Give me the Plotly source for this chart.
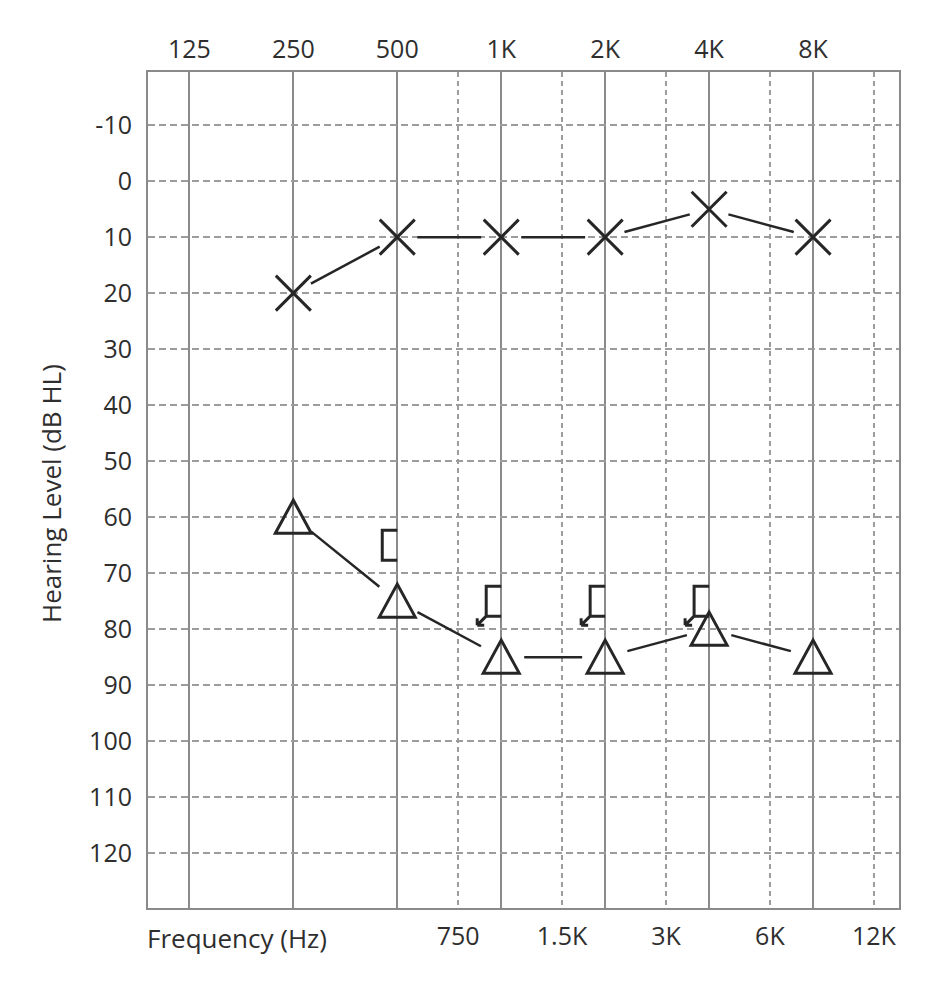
import numpy as np
import plotly.graph_objects as go

# ---- data ----
top_tick_vals = [125, 250, 500, 1000, 2000, 4000, 8000]
top_tick_text = ["125", "250", "500", "1K", "2K", "4K", "8K"]
mid_tick_vals = [750, 1500, 3000, 6000, 12000]
mid_tick_text = ["750", "1.5K", "3K", "6K", "12K"]
db_ticks = list(range(-10, 130, 10))
db_tick_text = [str(v) for v in db_ticks]

freqs = [250, 500, 1000, 2000, 4000, 8000]
air_db = [20, 10, 10, 10, 5, 10]          # X symbols
tri_db = [60, 75, 85, 85, 80, 85]         # triangle symbols

bone_freqs = [500, 1000, 2000, 4000]
bone_db = [65, 75, 75, 75]
bone_no_response = [False, True, True, True]

# ---- layout geometry ----
W, H = 935, 991
ML, MR, MT, MB = 148, 36, 72, 83
PW, PH = W - ML - MR, H - MT - MB
XR = [1.9771, 4.1520]           # log10 range
YR = [129.8, -19.5]

INK = "#262626"
SOLID = "#8a8a8a"
DASH = "#9c9c9c"
FONT = "Open Sans"

px_per_oct = PW / ((XR[1] - XR[0]) / np.log10(2))
px_per_db = PH / (YR[0] - YR[1])


def gapped_segments(fx, dbs, gap):
    xs, ys = [], []
    for i in range(len(fx) - 1):
        u0, v0 = np.log2(fx[i]) * px_per_oct, dbs[i] * px_per_db
        u1, v1 = np.log2(fx[i + 1]) * px_per_oct, dbs[i + 1] * px_per_db
        d = np.hypot(u1 - u0, v1 - v0)
        du, dv = (u1 - u0) / d, (v1 - v0) / d
        a = (u0 + du * gap, v0 + dv * gap)
        b = (u1 - du * gap, v1 - dv * gap)
        for (u, v) in (a, b):
            xs.append(2 ** (u / px_per_oct))
            ys.append(v / px_per_db)
        xs.append(None)
        ys.append(None)
    return xs, ys


fig = go.Figure()

ax, ay = gapped_segments(freqs, air_db, 20)
fig.add_trace(go.Scatter(x=ax, y=ay, mode="lines", line=dict(color=INK, width=2.5),
                         hoverinfo="skip", showlegend=False))
tx, ty = gapped_segments(freqs, tri_db, 23)
fig.add_trace(go.Scatter(x=tx, y=ty, mode="lines", line=dict(color=INK, width=2.5),
                         hoverinfo="skip", showlegend=False, xaxis="x2"))
fig.add_trace(go.Scatter(x=freqs, y=air_db, mode="markers",
                         marker=dict(symbol="x-thin-open", size=35, color=INK,
                                     line=dict(color=INK, width=3)),
                         showlegend=False))

shapes = []
for f, d in zip(freqs, tri_db):
    shapes.append(dict(type="path", xref="x", yref="y", xsizemode="pixel", ysizemode="pixel",
                       xanchor=f, yanchor=d, path="M-18,-16 L18,-16 L0,17 Z",
                       line=dict(color=INK, width=3), fillcolor="rgba(0,0,0,0)", layer="above"))
for f, d, nr in zip(bone_freqs, bone_db, bone_no_response):
    p = "M0,15 L-15,15 L-15,-15 L0,-15"
    if nr:
        p += " M-15,-15 L-24,-24 M-24,-24 L-24,-17 M-24,-24 L-17,-24"
    shapes.append(dict(type="path", xref="x", yref="y", xsizemode="pixel", ysizemode="pixel",
                       xanchor=f, yanchor=d, path=p,
                       line=dict(color=INK, width=3), layer="above"))

fig.update_layout(
    width=W, height=H,
    margin=dict(l=ML, r=MR, t=MT, b=MB),
    paper_bgcolor="white", plot_bgcolor="white",
    font=dict(family=FONT, color="#2e2e2e", size=25),
    shapes=shapes,
    xaxis=dict(type="log", range=XR, side="top", tickvals=top_tick_vals, ticktext=top_tick_text,
               showgrid=True, gridcolor=SOLID, gridwidth=2, ticks="", zeroline=False,
               showline=True, mirror=True, linecolor=SOLID, linewidth=2,
               tickfont=dict(size=25), ticklabelstandoff=2),
    xaxis2=dict(type="log", range=XR, overlaying="x", side="bottom",
                tickvals=mid_tick_vals, ticktext=mid_tick_text,
                showgrid=True, gridcolor=DASH, gridwidth=2, griddash="5px,4px", ticks="",
                showline=False, zeroline=False, tickfont=dict(size=25), ticklabelstandoff=11),
    yaxis=dict(range=YR, tickvals=db_ticks, ticktext=db_tick_text, showgrid=True,
               gridcolor=DASH, gridwidth=2,
               griddash="7px,4px", ticks="", zeroline=False,
               showline=True, mirror=True, linecolor=SOLID, linewidth=2,
               tickfont=dict(size=25), ticklabelstandoff=9),
    annotations=[
        dict(text="Hearing Level (dB HL)", xref="paper", yref="paper",
             x=(51 - ML) / PW, y=(MT + PH - 493) / PH, xanchor="center", yanchor="middle",
             textangle=-90, showarrow=False, font=dict(size=26)),
        dict(text="Frequency (Hz)", xref="paper", yref="paper",
             x=0, y=-(938 - (MT + PH)) / PH, xanchor="left", yanchor="middle", xshift=-3,
             showarrow=False, font=dict(size=26)),
    ],
)

fig.write_html("out.html")
